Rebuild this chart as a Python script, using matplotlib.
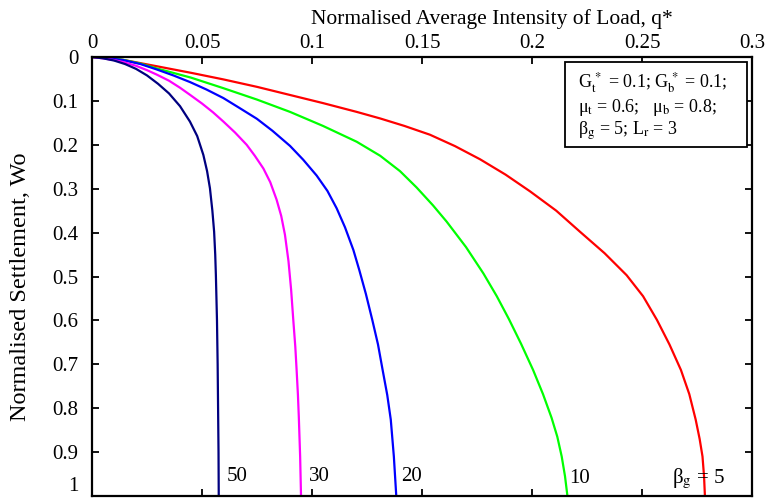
import matplotlib
matplotlib.use("Agg")
import matplotlib.pyplot as plt
from matplotlib.patches import Rectangle

plt.rcParams['font.family'] = ['Liberation Serif', 'DejaVu Serif']
plt.rcParams['mathtext.fontset'] = 'stix'

# load intensity (q*) / settlement (Wo) pairs, one set per beta_g
q_50 = [0, 0.005, 0.010, 0.015, 0.020, 0.025, 0.030, 0.035, 0.040, 0.0445, 0.0478, 0.0506, 0.0523,
        0.0536, 0.0547, 0.0555, 0.056, 0.0563, 0.0568, 0.0571, 0.0573, 0.0575, 0.0576]
w_50 = [0, 0.003, 0.008, 0.016, 0.027, 0.042, 0.061, 0.083, 0.112, 0.147, 0.18, 0.223, 0.26,
        0.299, 0.35, 0.398, 0.45, 0.497, 0.6, 0.7, 0.8, 0.9, 1.0]

q_30 = [0, 0.005, 0.010, 0.0142, 0.020, 0.025, 0.0294, 0.035, 0.040, 0.0445, 0.050, 0.055, 0.0597,
        0.065, 0.0703, 0.074, 0.0779, 0.081, 0.0839, 0.086, 0.0877, 0.0893, 0.0905, 0.0915, 0.0924,
        0.093, 0.0936, 0.094, 0.0946, 0.095]
w_30 = [0, 0.003, 0.007, 0.0115, 0.020, 0.030, 0.040, 0.054, 0.070, 0.086, 0.106, 0.126, 0.147,
        0.172, 0.200, 0.225, 0.254, 0.285, 0.325, 0.362, 0.405, 0.465, 0.53, 0.6, 0.66,
        0.713, 0.77, 0.82, 0.91, 1.0]

q_20 = [0, 0.007, 0.0142, 0.022, 0.0294, 0.037, 0.0445, 0.052, 0.0597, 0.067, 0.0749, 0.082, 0.090,
        0.096, 0.1021, 0.107, 0.1112, 0.115, 0.1188, 0.1215, 0.1245, 0.1274, 0.130, 0.1321, 0.1342,
        0.1358, 0.1372, 0.1383]
w_20 = [0, 0.0025, 0.007, 0.016, 0.0283, 0.042, 0.057, 0.074, 0.0935, 0.116, 0.1406, 0.168, 0.2025,
        0.234, 0.270, 0.305, 0.3446, 0.388, 0.4396, 0.4855, 0.54, 0.599, 0.655, 0.713, 0.77,
        0.826, 0.91, 1.0]

q_10 = [0, 0.007, 0.0142, 0.022, 0.0294, 0.045, 0.0597, 0.075, 0.090, 0.105, 0.1203, 0.131, 0.140,
        0.1475, 0.155, 0.1612, 0.170, 0.1779, 0.184, 0.1895, 0.195, 0.2005, 0.205, 0.2089, 0.2115,
        0.2135, 0.215, 0.2161]
w_10 = [0, 0.002, 0.0065, 0.015, 0.026, 0.047, 0.071, 0.097, 0.125, 0.157, 0.193, 0.225, 0.26,
        0.297, 0.338, 0.375, 0.433, 0.493, 0.545, 0.597, 0.653, 0.713, 0.768, 0.822, 0.865,
        0.91, 0.955, 1.0]

q_5 = [0, 0.007, 0.0142, 0.0294, 0.045, 0.0597, 0.075, 0.090, 0.105, 0.1203, 0.131, 0.142, 0.1536,
       0.165, 0.1764, 0.188, 0.1991, 0.211, 0.2218, 0.233, 0.243, 0.2505, 0.2568, 0.2625, 0.2677,
       0.2715, 0.2744, 0.2762, 0.2775, 0.2782, 0.2786]
w_5 = [0, 0.002, 0.0065, 0.021, 0.036, 0.051, 0.068, 0.0865, 0.105, 0.125, 0.140, 0.157, 0.177,
       0.203, 0.233, 0.268, 0.306, 0.350, 0.398, 0.447, 0.497, 0.545, 0.599, 0.655, 0.713,
       0.768, 0.826, 0.87, 0.91, 0.955, 1.0]

xticks = [0, 0.05, 0.1, 0.15, 0.2, 0.25, 0.3]
xticklabels = ["0", "0.05", "0.1", "0.15", "0.2", "0.25", "0.3"]
yticks = [0, 0.1, 0.2, 0.3, 0.4, 0.5, 0.6, 0.7, 0.8, 0.9, 1.0]
yticklabels = ["0", "0.1", "0.2", "0.3", "0.4", "0.5", "0.6", "0.7", "0.8", "0.9", "1"]

fig = plt.figure(figsize=(7.65, 5.01), dpi=100)
ax = fig.add_axes([0.1203, 0.01, 0.8627, 0.8762])

ax.plot(q_5, w_5, color="#ff0000", lw=1.6)
ax.plot(q_10, w_10, color="#00ff00", lw=1.6)
ax.plot(q_20, w_20, color="#0000ff", lw=1.6)
ax.plot(q_30, w_30, color="#ff00ff", lw=1.6)
ax.plot(q_50, w_50, color="#000080", lw=1.6)

ax.set_xlim(0, 0.3)
ax.set_ylim(1, 0)

# curve labels near the bottom
ax.text(0.0612, 0.955, "50", fontsize=15, va="center")
ax.text(0.0985, 0.955, "30", fontsize=15, va="center")
ax.text(0.1405, 0.955, "20", fontsize=15, va="center")
ax.text(0.2168, 0.96, "10", fontsize=15, va="center")
ax.text(0.2635, 0.96, r"β$_\mathrm{g}$ = 5", fontsize=15, va="center", clip_on=True)

# parameter box
ax.add_patch(Rectangle((0.7167, 0.795), 0.2758, 0.1936, transform=ax.transAxes,
                       fc="white", ec="black", lw=1.3, zorder=3))
box_txt = ("G$_\\mathrm{t}^{\\,*}$ = 0.1; G$_\\mathrm{b}^{\\,*}$ = 0.1;\n"
           "μ$_\\mathrm{t}$ = 0.6;   μ$_\\mathrm{b}$ = 0.8;\n"
           "β$_\\mathrm{g}$ = 5; L$_\\mathrm{r}$ = 3")
ax.text(0.736, 0.970, box_txt, transform=ax.transAxes, fontsize=13,
        va="top", ha="left", linespacing=1.12, zorder=4)

ax.xaxis.tick_top()
ax.xaxis.set_label_position("top")
ax.set_xticks(xticks)
ax.set_xticklabels(xticklabels)
ax.set_yticks(yticks)
ax.set_yticklabels(yticklabels)
ax.tick_params(axis="both", direction="in", length=5, width=1.3, labelsize=15,
               top=True, bottom=True, left=True, right=True)
ax.tick_params(axis="x", pad=3)
ax.tick_params(axis="y", pad=10)
ax.get_yticklabels()[-1].set_verticalalignment("bottom")
for s in ax.spines.values():
    s.set_linewidth(1.6)

ax.set_xlabel("Normalised Average Intensity of Load, q*", fontsize=15.5)
ax.xaxis.set_label_coords(0.606, 1.075)
ax.set_ylabel("Normalised Settlement, Wo", fontsize=17.5)
ax.yaxis.set_label_coords(-0.092, 0.476)

plt.savefig("out.png", dpi=100)
